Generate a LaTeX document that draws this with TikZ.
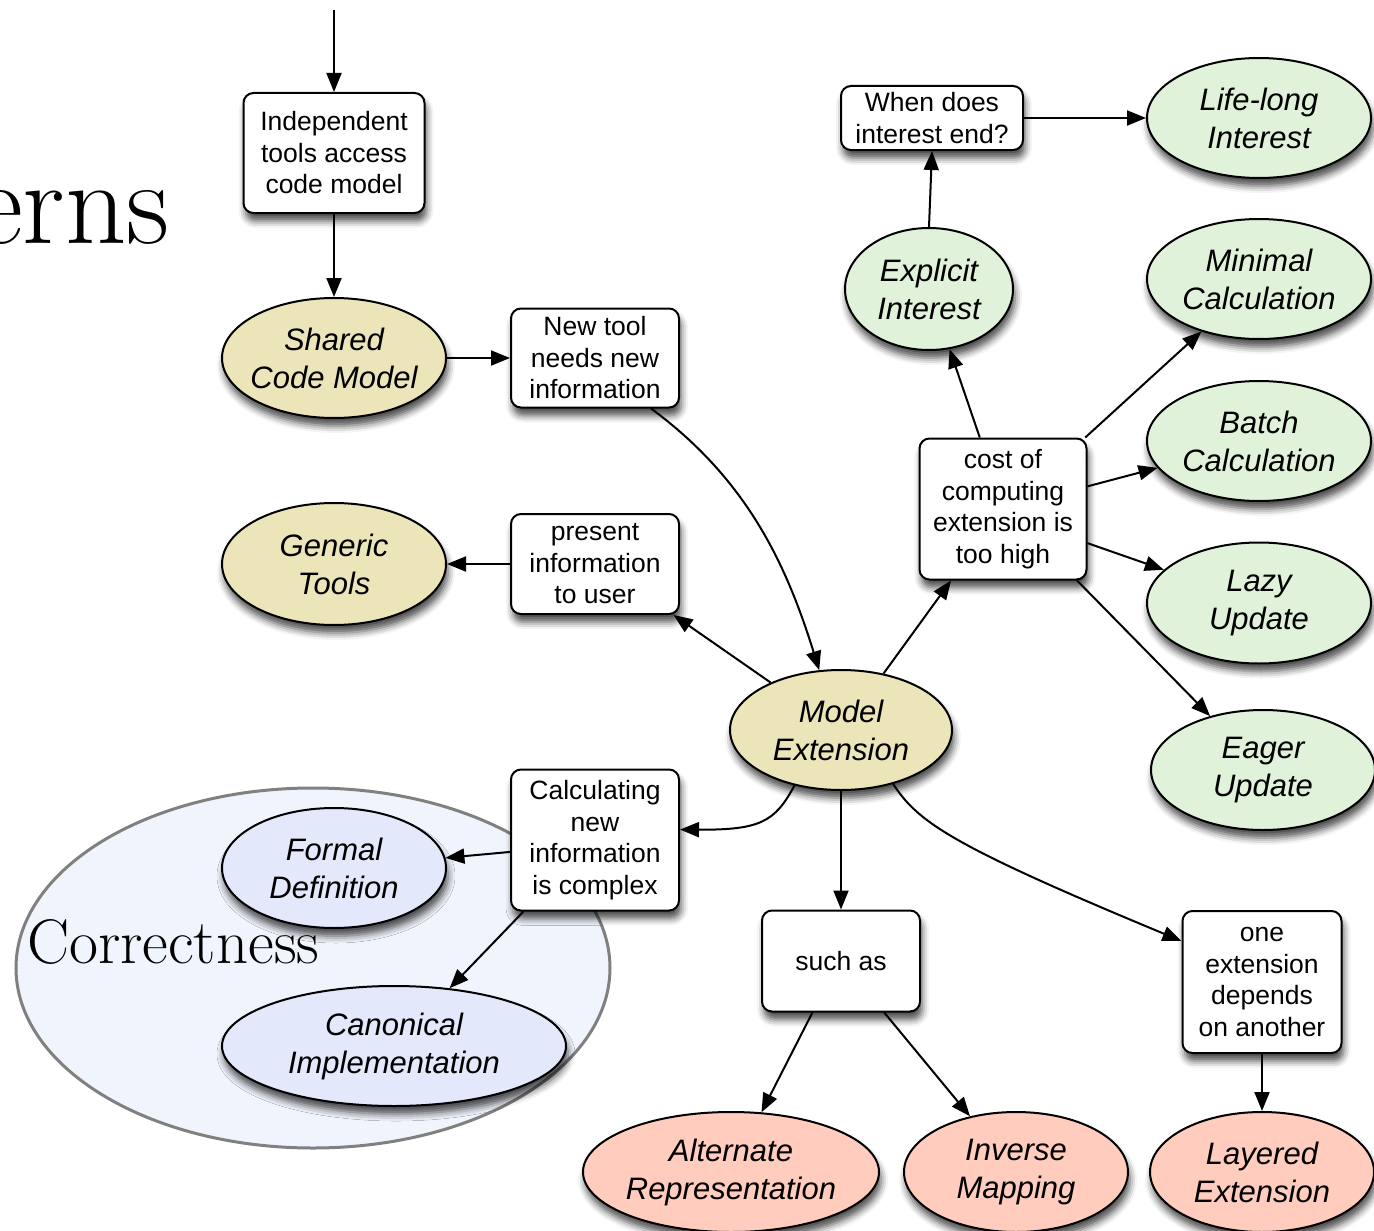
\documentclass[tikz,border=0pt]{standalone}
\usepackage{fontspec}
\usetikzlibrary{shapes.geometric, arrows.meta, shadows.blur}

\newfontfamily\helv{Liberation Sans}
\newcommand\boxfont{\helv\fontsize{26.5}{31.5}\selectfont}
\newcommand\ovalfont{\helv\itshape\fontsize{31}{38}\selectfont}

\definecolor{tanfill}{RGB}{235,229,185}
\definecolor{greenfill}{RGB}{224,242,218}
\definecolor{bluefill}{RGB}{227,232,250}
\definecolor{salmonfill}{RGB}{255,204,190}
\definecolor{corrfill}{RGB}{240,244,253}
\definecolor{corrline}{RGB}{128,128,128}

\tikzset{
  shade/.style={blur shadow={shadow xshift=2pt, shadow yshift=-8pt,
      shadow blur radius=7pt, shadow opacity=70}},
  box/.style={draw, line width=2pt, rounded corners=10pt, fill=white,
      align=center, inner sep=0pt, font=\boxfont, shade},
  oval/.style={ellipse, draw, line width=2pt, align=center, inner sep=-12pt,
      font=\ovalfont, shade, minimum width=224pt, minimum height=120pt},
  conn/.style={line width=2pt, -{Triangle[length=19pt,width=15pt]}},
}

\begin{document}
\begin{tikzpicture}[x=1pt, y=-1pt]
\useasboundingbox (0,0) rectangle (1374,1231);

% title fragment and the grouping region
\node[anchor=base east, inner sep=0pt, font=\fontsize{120}{120}\selectfont] (title) at (170,243) {erns};
\node[ellipse, draw=corrline, line width=3pt, fill=corrfill, inner sep=0pt,
      minimum width=594pt, minimum height=360pt] (corr) at (313,968) {};
\node[anchor=base west, inner sep=0pt, font=\fontsize{63}{63}\selectfont] (corrlabel) at (27,963) {Correctness};

% boxes
\node[box, minimum width=181pt, minimum height=120pt] (indep) at (334,153) {Independent\\tools access\\code model};
\node[box, minimum width=168pt, minimum height=99pt] (newtool) at (595,358) {New tool\\needs new\\information};
\node[box, minimum width=168pt, minimum height=100pt] (present) at (595,564) {present\\information\\to user};
\node[box, minimum width=168pt, minimum height=141pt] (calc) at (595,840) {Calculating\\new\\information\\is complex};
\node[box, minimum width=167pt, minimum height=141pt] (cost) at (1003,509) {cost of\\computing\\extension is\\too high};
\node[box, minimum width=182pt, minimum height=64pt] (whenend) at (932,118) {When does\\interest end?};
\node[box, minimum width=158pt, minimum height=101pt] (suchas) at (841,961) {such as};
\node[box, minimum width=159pt, minimum height=142pt] (oneext) at (1262,982) {one\\extension\\depends\\on another};

% ellipses
\node[oval, fill=tanfill] (shared) at (334,358) {Shared\\Code Model};
\node[oval, fill=tanfill, minimum height=122pt] (generic) at (334,564) {Generic\\Tools};
\node[oval, fill=tanfill, minimum width=222pt] (modelext) at (841,730) {Model\\Extension};
\node[oval, fill=bluefill] (formal) at (334,868) {Formal\\Definition};
\node[oval, fill=bluefill, minimum width=344pt] (canon) at (394,1046) {Canonical\\Implementation};
\node[oval, fill=greenfill, minimum width=168pt, minimum height=122pt] (explicit) at (929,289) {Explicit\\Interest};
\node[oval, fill=greenfill] (lifelong) at (1259,118) {Life-long\\Interest};
\node[oval, fill=greenfill] (minimal) at (1259,279) {Minimal\\Calculation};
\node[oval, fill=greenfill] (batch) at (1259,441) {Batch\\Calculation};
\node[oval, fill=greenfill, minimum height=121pt] (lazy) at (1259,603) {Lazy\\Update};
\node[oval, fill=greenfill] (eager) at (1263,770) {Eager\\Update};
\node[oval, fill=salmonfill, minimum width=296pt] (altrep) at (731,1172) {Alternate\\Representation};
\node[oval, fill=salmonfill] (inverse) at (1016,1172) {Inverse\\Mapping};
\node[oval, fill=salmonfill] (layered) at (1262,1172) {Layered\\Extension};

% connectors
\coordinate (topin) at (334,10);
\draw[conn] (topin) -- (indep.north);
\draw[conn] (indep.south) -- (shared.north);
\draw[conn] (shared.east) -- (newtool.west);
\draw[conn] (newtool.-42) .. controls (745,478) and (785,560) .. (modelext.110);
\draw[conn] (modelext.146) -- (present.-33);
\draw[conn] (present.west) -- (generic.east);
\draw[conn] (modelext.-130) .. controls (775,822) and (760,830) .. (calc.7);
\draw[conn] (calc.188) -- (formal);
\draw[conn] (calc.225) -- (canon);
\draw[conn] (modelext.south) -- (suchas.north);
\draw[conn] (suchas.241) -- (altrep);
\draw[conn] (suchas.-50) -- (inverse);
\draw[conn] (modelext.-46) .. controls (918,822) and (950,845) .. (oneext.153);
\draw[conn] (oneext.south) -- (layered.north);
\draw[conn] (modelext.53) -- (cost.234);
\draw[conn] (cost.108) -- (explicit);
\draw[conn] (explicit.north) -- (whenend.south);
\draw[conn] (whenend.east) -- (lifelong.west);
\draw[conn] (cost.41) -- (minimal);
\draw[conn] (cost.15) -- (batch);
\draw[conn] (cost.-22) -- (lazy);
\draw[conn] (cost.-44) -- (eager);
\end{tikzpicture}
\end{document}
